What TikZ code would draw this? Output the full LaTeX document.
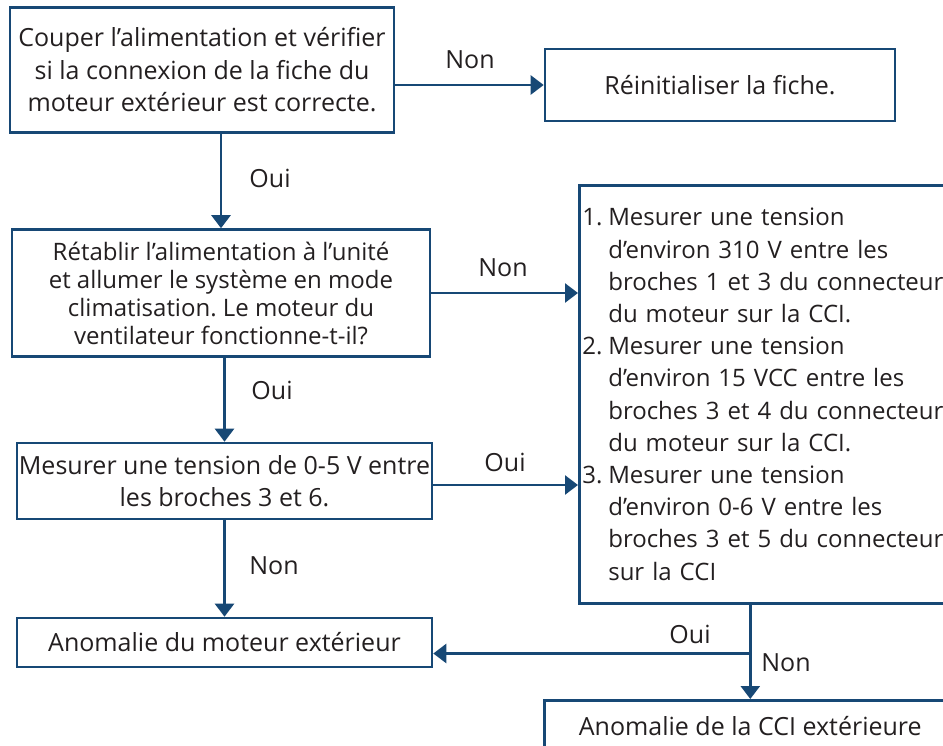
\documentclass[tikz,border=0pt]{standalone}
\usepackage{fontspec}
\setmainfont{Open Sans}
\usetikzlibrary{arrows.meta}
\definecolor{linecol}{RGB}{23,72,117}
\definecolor{textcol}{RGB}{35,31,32}
\frenchspacing

\begin{document}
\begin{tikzpicture}[x=1pt,y=-1pt,
  box/.style={rectangle,draw=linecol,line width=2.6pt,text=textcol,align=center,inner sep=0pt,font=\fontsize{25}{32.5}\selectfont},
  lbl/.style={text=textcol,inner sep=0pt,font=\fontsize{25}{26}\selectfont},
  arr/.style={-{Triangle[width=19pt,length=13pt]},draw=linecol,line width=2.6pt}]
\path[use as bounding box,clip] (0,0) rectangle (943,745);
        % Flowchart
\node[box,minimum width=384pt,minimum height=125pt] (couper) at (202,70) {Couper l’alimentation et vérifier\\si la connexion de la fiche du\\moteur extérieur est correcte.};
\node[box,minimum width=350pt,minimum height=72pt] (reinit) at (720,85) {Réinitialiser la fiche.};
\node[box,minimum width=418pt,minimum height=127pt,font=\fontsize{24}{28}\selectfont] (retablir) at (221,293) {Rétablir l’alimentation à l’unité\\et allumer le système en mode\\climatisation. Le moteur du\\ventilateur fonctionne-t-il?};
\node[box,minimum width=415pt,minimum height=76pt] (mesurer) at (224.5,481) {Mesurer une tension de 0-5 V entre\\les broches 3 et 6.};
\node[box,minimum width=415pt,minimum height=49pt] (moteur) at (224.5,642.5) {Anomalie du moteur extérieur};
\node[box,anchor=north west,minimum width=430pt,minimum height=418pt,text width=424pt,align=left,inner xsep=3pt,font=\fontsize{24}{32.2}\selectfont] (mesures) at (578,184)
  {\makebox[26pt][l]{1.}Mesurer une tension\\
   \hspace*{26pt}d’environ 310 V entre les\\
   \hspace*{26pt}broches 1 et 3 du connecteur\\
   \hspace*{26pt}du moteur sur la CCI.\\
   \makebox[26pt][l]{2.}Mesurer une tension\\
   \hspace*{26pt}d’environ 15 VCC entre les\\
   \hspace*{26pt}broches 3 et 4 du connecteur\\
   \hspace*{26pt}du moteur sur la CCI.\\
   \makebox[26pt][l]{3.}Mesurer une tension\\
   \hspace*{26pt}d’environ 0-6 V entre les\\
   \hspace*{26pt}broches 3 et 5 du connecteur\\
   \hspace*{26pt}sur la CCI};
\node[box,anchor=north west,minimum width=412pt,minimum height=52pt] (cci) at (543,699) {Anomalie de la CCI extérieure};

\draw[arr] (couper.east |- reinit.west) -- (reinit.west);
\draw[arr] (couper.south -| retablir.north) -- (retablir.north);
\draw[arr] (retablir.east) -- (retablir.east -| mesures.west);
\draw[arr] (retablir.south -| mesurer.north) -- (mesurer.north);
\draw[arr] ([yshift=-4pt]mesurer.east) -- ([yshift=-4pt]mesurer.east -| mesures.west);
\draw[arr] (mesurer.south) -- (moteur.north);
\draw[arr] (mesures.south -| cci.north) -- (cci.north);
\coordinate (jonction) at ([yshift=-11pt]moteur.east -| cci.north);
\draw[arr] (jonction) -- (jonction -| moteur.east);

\node[lbl] (non1) at (470,60) {Non};
\node[lbl] (oui1) at (270,178) {Oui};
\node[lbl] (non2) at (503,268) {Non};
\node[lbl] (oui2) at (272,390) {Oui};
\node[lbl] (oui3) at (505,462) {Oui};
\node[lbl] (non3) at (274,566) {Non};
\node[lbl] (oui4) at (690,634) {Oui};
\node[lbl] (non4) at (786,663) {Non};
    \end{tikzpicture}
\end{document}
